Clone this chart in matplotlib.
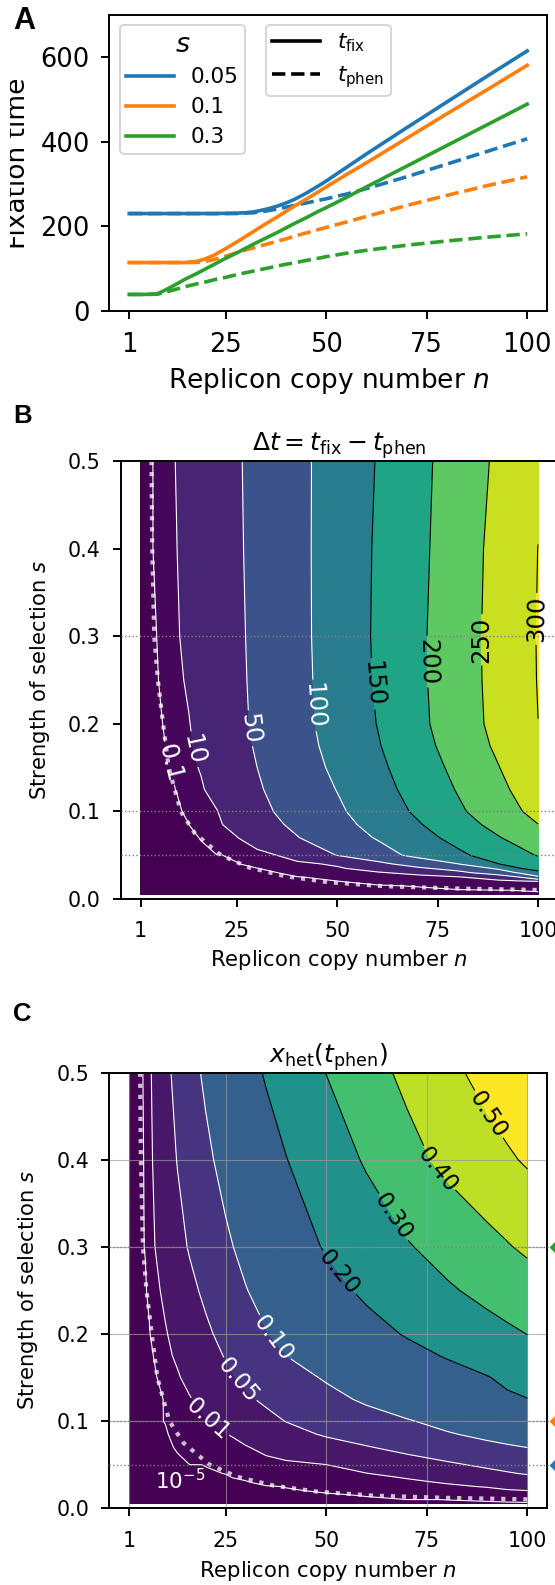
import numpy as np
import matplotlib
matplotlib.use('Agg')
import matplotlib.pyplot as plt
from matplotlib.lines import Line2D
from matplotlib.patches import Rectangle

# ---------------- panel A: fixation times vs copy number ----------------
n_a = [1, 5, 8, 10, 12, 15, 18, 20, 22, 25, 28, 30, 32, 35, 38, 40, 42, 45, 48, 50, 55, 60, 70, 80, 90, 100]
tfix_005 = [230, 230, 230, 230, 230, 230, 230, 230, 230, 230.5, 231, 232, 234, 240, 248, 255, 263, 278, 295, 307,
            339, 371, 433, 494, 555, 615]
tphen_005 = [230, 230, 230, 230, 230, 230, 230, 230, 230, 230, 230, 231, 232, 236, 241, 245, 249, 255, 261, 265,
             276, 289, 317, 347, 377, 407]
tfix_01 = [114, 114, 114, 114, 114, 114, 117, 123, 131, 147, 164, 176, 188, 206, 223, 235, 247, 264, 281, 293,
           322, 350, 408, 466, 523, 581]
tphen_01 = [114, 114, 114, 114, 114, 114, 114.5, 117, 121, 129, 138, 144, 149, 157, 165, 170, 176, 184, 192, 197,
            210, 223, 249, 273, 296, 317]
tfix_03 = [38.5, 38.5, 40, 49, 59, 75, 89, 99, 109, 124, 138, 148, 158, 172, 186, 196, 206, 220, 235, 244,
           268, 293, 342, 391, 440, 489]
tphen_03 = [38.5, 38.5, 39, 44, 49, 57, 64, 68, 73, 79, 86, 90, 94, 100, 106, 110, 113, 119, 124, 128,
            136, 143, 155, 165, 174, 182]

s_vals = [0.05, 0.1, 0.3]
s_labels = ['0.05', '0.1', '0.3']
s_colors = ['#1f77b4', '#ff7f0e', '#2ca02c']

# ---------------- panels B and C: values on an (n, s) grid ----------------
n_grid = [1, 2, 3, 4, 5, 6, 8, 10, 13, 16, 20, 25, 30, 35, 40, 50, 60, 70, 80, 90, 95, 100]
s_grid = [0.005, 0.01, 0.015, 0.02, 0.025, 0.03, 0.035, 0.04, 0.05, 0.07, 0.085, 0.1, 0.125, 0.15, 0.175,
          0.2, 0.25, 0.3, 0.4, 0.5]

# delta t = t_fix - t_phen, one row per s value
dt = [
    [0]*22,
    [0]*18 + [0.03, 0.08, 0.11, 0.15],
    [0]*16 + [0.05, 0.13, 0.5, 1.2, 1.8, 2.5],
    [0]*15 + [0.08, 0.3, 0.9, 2.2, 3, 4, 8.5],
    [0]*14 + [0.06, 0.3, 1.2, 3, 8, 25, 48, 91],
    [0]*12 + [0.02, 0.09, 0.5, 3, 7.5, 17, 38, 73, 103, 141],
    [0]*11 + [0.02, 0.08, 0.4, 1.5, 7, 22, 43, 67, 107, 148, 162],
    [0]*11 + [0.05, 0.4, 1.5, 4, 14, 38, 70, 99, 149, 163, 176],
    [0]*10 + [0.02, 0.3, 4, 10.2, 24, 51, 81, 112, 141, 171, 186, 203],
    [0]*9 + [0.12, 4.67, 9.43, 21.7, 35.1, 48.4, 75.7, 103.3, 133, 164.1, 197.1, 213.5, 230],
    [0]*8 + [0.09, 3.19, 7.32, 16.8, 31.0, 45.2, 58.9, 85.8, 114.7, 145.9, 179.6, 214.3, 232.1, 249.5],
    [0]*8 + [0.23, 5.0, 9.35, 23.1, 38.1, 52.7, 66.1, 93.0, 124, 157, 192.3, 228.1, 245.9, 264],
    [0]*7 + [0.12, 4.16, 7.97, 16.9, 31.1, 45.4, 59.4, 73.3, 101.3, 133.3, 167.1, 202.9, 239.1, 257.7, 277],
    [0]*7 + [0.4, 6.37, 11.1, 22.2, 36.1, 49.9, 64.5, 78.9, 108.6, 140.4, 175.4, 211.7, 248.2, 267.5, 287],
    [0]*6 + [0.17, 3.73, 7.91, 14.2, 25.3, 39.2, 53.3, 68.3, 83.2, 114.3, 146.8, 183.3, 220.4, 257.3, 275.7, 294],
    [0]*6 + [0.4, 4.98, 9.17, 16.6, 27.7, 41.4, 55.8, 71, 86.1, 117.9, 151.1, 188.7, 225.9, 262.9, 281.4, 299.8],
    [0]*5 + [0.22, 3.76, 6.8, 12.3, 20, 30.3, 43.1, 57, 72.1, 87.3, 119.9, 154.4, 190.9, 227.8, 264.7, 283.1,
             301.5],
    [0, 0, 0, 0, 0.08, 1.9, 5.1, 8.4, 14.9, 22.2, 31.9, 44.1, 57.9, 73, 88.2, 121.2, 156.0, 191.5, 228.1, 265.2,
     283.6, 302],
    [0, 0, 0, 0, 1.3, 3.0, 6.4, 9.8, 16.9, 24.0, 33.6, 45.5, 59.2, 74, 88.8, 120.9, 154.8, 188.8, 225.8, 263.6,
     282, 300.4],
    [0, 0, 0, 0, 1.5, 3.3, 6.9, 10.7, 17.9, 25.0, 34.5, 46.4, 60.1, 74.5, 89.0, 119.9, 152.1, 186.8, 222.1, 257.6,
     275, 292],
]

# heteroplasmy at t_phen, one row per s value
xhet = [
    [0]*22,
    [0]*17 + [5e-6, 1.1e-5, 1.7e-5, 2.3e-5, 2.9e-5],
    [0]*16 + [1.43e-5, 8e-4, 1.8e-3, 3e-3, 3.7e-3, 4.5e-3],
    [0]*15 + [2e-5, 1.2e-3, 3e-3, 5e-3, 7e-3, 8.1e-3, 9.3e-3],
    [0]*14 + [1.43e-5, 1.5e-3, 3.5e-3, 5.8e-3, 8.2e-3, 0.0107, 0.0145, 0.0193],
    [0]*13 + [5e-5, 5e-4, 2e-3, 5e-3, 8e-3, 0.011, 0.02, 0.025, 0.0308],
    [0]*12 + [3e-5, 9e-4, 1.6e-3, 4e-3, 7e-3, 0.0105, 0.018, 0.03, 0.036, 0.042],
    [0]*11 + [1.2e-5, 8e-4, 1.9e-3, 3e-3, 6.5e-3, 9.5e-3, 0.018, 0.029, 0.041, 0.047, 0.0528],
    [0]*10 + [1.3e-5, 1e-3, 3e-3, 4.7e-3, 6.5e-3, 0.0098, 0.0214, 0.0329, 0.0443, 0.0563, 0.0625, 0.069],
    [0]*8 + [1.5e-5, 1e-3, 3e-3, 6e-3, 8.8e-3, 0.0148, 0.0208, 0.0342, 0.0476, 0.061, 0.0745, 0.0879, 0.0942,
             0.1005],
    [0]*8 + [4.3e-5, 0.0034, 0.006, 0.0092, 0.0171, 0.0268, 0.0365, 0.0542, 0.0681, 0.0819, 0.0958, 0.1111,
             0.119, 0.127],
    [0]*7 + [1.33e-5, 2e-3, 4.5e-3, 8.5e-3, 0.0169, 0.0284, 0.0397, 0.0509, 0.066, 0.081, 0.0961, 0.1146, 0.134,
             0.144, 0.154],
    [0]*7 + [1.4e-5, 0.0051, 0.0085, 0.0173, 0.031, 0.0446, 0.056, 0.066, 0.086, 0.107, 0.1302, 0.1535, 0.1767,
             0.1884, 0.198],
    [0]*6 + [1.05e-5, 2e-3, 8e-3, 0.0159, 0.0283, 0.0438, 0.0571, 0.069, 0.081, 0.1046, 0.1275, 0.1505, 0.1734,
             0.1963, 0.215, 0.234],
    [0]*6 + [2e-5, 0.0059, 0.013, 0.0228, 0.0359, 0.0522, 0.0682, 0.0841, 0.0999, 0.126, 0.1519, 0.1779, 0.2047,
             0.2364, 0.252, 0.268],
    [0]*6 + [1e-4, 8e-3, 0.019, 0.0293, 0.0431, 0.0614, 0.0803, 0.0974, 0.1145, 0.1446, 0.1747, 0.2051, 0.2371,
             0.269, 0.285, 0.301],
    [0]*5 + [3.3e-5, 0.007, 0.0155, 0.0281, 0.0407, 0.0573, 0.0776, 0.098, 0.1173, 0.1365, 0.175, 0.2132, 0.2509,
             0.2887, 0.3239, 0.341, 0.358],
    [0, 0, 0, 0, 1.4e-5, 4e-3, 0.0126, 0.0228, 0.0382, 0.053, 0.0701, 0.0915, 0.114, 0.137, 0.1605, 0.2065,
     0.2496, 0.2927, 0.3333, 0.3735, 0.394, 0.415],
    [0, 0, 0, 0, 1.7e-5, 5e-3, 0.0176, 0.0314, 0.0516, 0.0677, 0.0892, 0.1163, 0.1435, 0.171, 0.1978, 0.253,
     0.3091, 0.3697, 0.4221, 0.4664, 0.488, 0.51],
    [0, 0, 0, 0, 2.5e-5, 6e-3, 0.0222, 0.0396, 0.062, 0.082, 0.1085, 0.1412, 0.1739, 0.206, 0.238, 0.3012,
     0.3618, 0.4207, 0.4765, 0.529, 0.555, 0.58],
]

dt_levels = [0, 0.1, 10, 50, 100, 150, 200, 250, 300]
xhet_levels = [0, 1e-5, 0.01, 0.05, 0.1, 0.2, 0.3, 0.4, 0.5]

# boundary curve shown dotted in B and C
bnd_n = [3.7, 3.9, 4.4, 5.3, 6.6, 8.0, 11.0, 14.5, 21, 28, 37, 48, 62, 80, 100]
bnd_s = [0.5, 0.4, 0.3, 0.25, 0.2, 0.15, 0.1, 0.075, 0.05, 0.036, 0.026, 0.019, 0.0145, 0.012, 0.0103]

N, S = np.meshgrid(n_grid, s_grid)
DT = np.array(dt, dtype=float)
XH = np.array(xhet, dtype=float)

fig = plt.figure(figsize=(5.55, 15.85), dpi=100)

# ---------------- A ----------------
axA = fig.add_axes([0.19694, 0.80397, 0.78883, 0.18656])
curves = [(tfix_005, tphen_005), (tfix_01, tphen_01), (tfix_03, tphen_03)]
for (tf, tp), c in zip(curves, s_colors):
    axA.plot(n_a, tf, color=c, lw=2.6)
    axA.plot(n_a, tp, color=c, lw=2.6, ls='--')
axA.set_xlim(-3.95, 104.95)
axA.set_ylim(0, 700)
axA.set_xticks([1, 25, 50, 75, 100])
axA.set_yticks([0, 200, 400, 600])
axA.tick_params(labelsize=18.5, length=6, width=1.4)
axA.tick_params(axis='x', pad=9)
axA.tick_params(axis='y', pad=8)
axA.set_xlabel('Replicon copy number $n$', fontsize=19)
axA.set_ylabel('Fixation time', fontsize=19)
axA.xaxis.set_label_coords(0.5, -0.187)
axA.yaxis.set_label_coords(-0.178, 0.5)

h1 = [Line2D([], [], color=c, lw=2.6) for c in s_colors]
leg1 = axA.legend(h1, s_labels, title='$s$', loc='upper left', bbox_to_anchor=(0.0244, 0.966),
                  borderaxespad=0, borderpad=0.3, fontsize=15.5, title_fontsize=19.5,
                  handlelength=2.2, labelspacing=0.46)
leg1.get_frame().set_linewidth(1.4)
axA.add_artist(leg1)
h2 = [Line2D([], [], color='k', lw=2.6), Line2D([], [], color='k', lw=2.6, ls='--')]
leg2 = axA.legend(h2, [r'$t_\mathrm{fix}$', r'$t_\mathrm{phen}$'], loc='upper left',
                  bbox_to_anchor=(0.358, 0.966), borderaxespad=0, borderpad=0.3, fontsize=15.5,
                  handlelength=2.2, labelspacing=0.46)
leg2.get_frame().set_linewidth(1.4)


def contour_lines(ax, Z, levels, color, fmt, pos, size):
    cs = ax.contour(N, S, Z, levels=levels, colors=color, linewidths=0.8)
    if pos:
        ax.clabel(cs, fmt=fmt, fontsize=size, manual=pos, inline_spacing=3)
    return cs


# ---------------- B ----------------
axB = fig.add_axes([0.21748, 0.43281, 0.78793, 0.27634])
fmtB = {0.1: '0.1', 10: '10', 50: '50', 100: '100', 150: '150', 200: '200', 250: '250', 300: '300'}
axB.contourf(N, S, DT, levels=dt_levels, cmap='viridis', extend='max')
axB.plot(bnd_n, bnd_s, color='white', alpha=0.75, lw=3, ls=':')
contour_lines(axB, DT, dt_levels[1:5], 'white', fmtB,
              [(8.2, 0.155), (15.2, 0.172), (28.5, 0.195), (44.7, 0.221)], 17.5)
contour_lines(axB, DT, dt_levels[5:], 'black', fmtB,
              [(59.3, 0.246), (73, 0.271), (85.9, 0.296), (97.9, 0.32)], 17.5)
axB.set_title(r'$\Delta t = t_\mathrm{fix} - t_\mathrm{phen}$', fontsize=18, pad=6)

# ---------------- C ----------------
axC = fig.add_axes([0.19694, 0.04839, 0.78919, 0.27483])
fmtC = {0.01: '0.01', 0.05: '0.05', 0.1: '0.10', 0.2: '0.20', 0.3: '0.30', 0.4: '0.40', 0.5: '0.50'}
axC.contourf(N, S, XH, levels=xhet_levels, cmap='viridis', extend='max')
axC.plot(bnd_n, bnd_s, color='white', alpha=0.75, lw=3, ls=':')
contour_lines(axC, XH, xhet_levels[1:2], 'white', fmtC, None, 16.5)
contour_lines(axC, XH, xhet_levels[2:5], 'white', fmtC,
              [(21.1, 0.105), (28.2, 0.147), (37.3, 0.197)], 16.5)
contour_lines(axC, XH, xhet_levels[5:], 'black', fmtC,
              [(53.1, 0.27), (66.3, 0.333), (78.4, 0.392), (90, 0.451)], 16.5)
axC.text(13.7, 0.0317, r'$10^{-5}$', color='white', fontsize=15.5, ha='center', va='center')
axC.set_title(r'$x_\mathrm{het}(t_\mathrm{phen})$', fontsize=18, pad=6)
axC.grid(True, color='0.6', lw=0.8, alpha=0.7)

for ax, right in ((axB, 1.0), (axC, 1.022)):
    for s, c in zip(s_vals, s_colors):
        ax.plot([0, right], [s, s], color='0.5', ls=':', lw=1.0,
                transform=ax.get_yaxis_transform(), clip_on=False, zorder=3)
        if ax is axC:
            ax.plot([right], [s], marker='D', color=c, ms=7.5,
                    transform=ax.get_yaxis_transform(), clip_on=False, zorder=4)
    ax.set_xlim(-3.95, 104.95)
    ax.set_ylim(0, 0.5)
    ax.set_xticks([1, 25, 50, 75, 100])
    ax.set_yticks([0, 0.1, 0.2, 0.3, 0.4, 0.5])
    ax.tick_params(labelsize=14.8, length=6, width=1.4)
    ax.tick_params(axis='x', pad=10)
    ax.tick_params(axis='y', pad=8.5)
    ax.set_xlabel('Replicon copy number $n$', fontsize=15.2)
    ax.set_ylabel('Strength of selection $s$', fontsize=15.2)
    ax.yaxis.set_label_coords(-0.158, 0.5)

axB.xaxis.set_label_coords(0.5, -0.112)
axC.xaxis.set_label_coords(0.5, -0.1164)

for ax in (axA, axB, axC):
    for sp in ax.spines.values():
        sp.set_linewidth(1.4)

# the left edge of panel A's y label is cut off in the original
fig.add_artist(Rectangle((0, 0.78), 10 / 555, 0.22, transform=fig.transFigure,
                         facecolor='white', edgecolor='none', zorder=10))

for lab, x, y, fs in (('A', 13.3, 29, 22), ('B', 13.3, 423.3, 18.5), ('C', 12.7, 1021, 18.5)):
    fig.text(x / 555, 1 - y / 1585, lab, fontsize=fs, fontweight='bold',
             family='Liberation Sans', ha='left', va='baseline')

fig.savefig('out.png', dpi=100)
